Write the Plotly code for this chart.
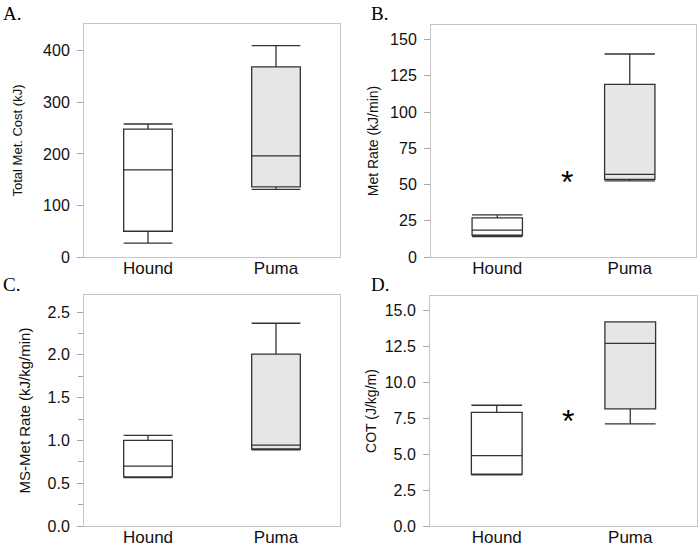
import plotly.graph_objects as go

# ── Data ───────────────────────────────────────────────────────────────────────
categories = ["Hound", "Puma"]

cost_low = [27, 131]
cost_q1 = [50, 136]
cost_med = [169, 196]
cost_q3 = [248, 369]
cost_high = [258, 410]

rate_low = [14, 52.5]
rate_q1 = [15, 53.5]
rate_med = [18.5, 57]
rate_q3 = [27, 119]
rate_high = [29, 140]

ms_low = [0.565, 0.89]
ms_q1 = [0.575, 0.90]
ms_med = [0.70, 0.945]
ms_q3 = [1.0, 2.01]
ms_high = [1.06, 2.37]

cot_low = [3.55, 7.1]
cot_q1 = [3.6, 8.15]
cot_med = [4.9, 12.7]
cot_q3 = [7.9, 14.2]
cot_high = [8.4, 14.2]

# significance markers (y value in each panel)
star_rate_y = 56
star_cot_y = 7.7

# ── Style ──────────────────────────────────────────────────────────────────────
W, H = 699, 548
FILLS = ["#ffffff", "#e6e6e6"]
LINE = "#333333"
FRAME = "#c4c4c4"
FONT = "Liberation Sans, Arial, sans-serif"

panels = [
    # stats, y range, dtick, fmt, title, title size, title standoff,
    # domain px (x0, x1, ytop, ybottom), label, minor
    ((cost_low, cost_q1, cost_med, cost_q3, cost_high), [0, 452], 100, "d",
     "Total Met. Cost (kJ)", 13, 17, (84, 340, 24, 257), "A.", None),
    ((rate_low, rate_q1, rate_med, rate_q3, rate_high), [0, 160], 25, "d",
     "Met Rate (kJ/min)", 14, 8, (431, 696, 25, 257), "B.", None),
    ((ms_low, ms_q1, ms_med, ms_q3, ms_high), [0, 2.7], 0.5, ".1f",
     "MS-Met Rate (kJ/kg/min)", 15, 13, (84, 340, 295, 526), "C.", 0.25),
    ((cot_low, cot_q1, cot_med, cot_q3, cot_high), [0, 16], 2.5, ".1f",
     "COT (J/kg/m)", 14, 4, (430, 697, 296, 526), "D.", None),
]

fig = go.Figure()
layout = {}
annotations = []

for i, (stats, yr, dt, fmt, title, tsize, tstand, dom, label, minor) in enumerate(panels):
    n = "" if i == 0 else str(i + 1)
    lo, q1, med, q3, hi = stats
    for j, cat in enumerate(categories):
        fig.add_trace(go.Box(
            x=[cat], lowerfence=[lo[j]], q1=[q1[j]], median=[med[j]],
            q3=[q3[j]], upperfence=[hi[j]],
            fillcolor=FILLS[j], line=dict(color=LINE, width=1.3),
            width=0.38, whiskerwidth=1, boxpoints=False,
            xaxis="x" + n, yaxis="y" + n, showlegend=False, hoverinfo="y",
        ))
    x0, x1, yt, yb = dom
    xa = dict(
        domain=[x0 / W, x1 / W], anchor="y" + n, type="category",
        categoryorder="array", categoryarray=categories, range=[-0.5, 1.5],
        showline=True, mirror=True, linecolor=FRAME, linewidth=1,
        showgrid=False, zeroline=False, ticks="", automargin=False,
        tickfont=dict(family=FONT, size=17, color="#111111"),
        ticklabelstandoff=-4,
    )
    ya = dict(
        domain=[1 - yb / H, 1 - yt / H], anchor="x" + n, range=yr,
        dtick=dt, tick0=0, tickformat=fmt, automargin=False,
        showline=True, mirror=True, linecolor=FRAME, linewidth=1,
        showgrid=False, zeroline=False,
        ticks="outside", ticklen=6, tickcolor="#a8a8a8", tickwidth=1,
        tickfont=dict(family=FONT, size=16, color="#111111"),
        ticklabelstandoff=4,
        title=dict(text=title, font=dict(family=FONT, size=tsize, color="#111111"),
                   standoff=tstand),
    )
    if minor:
        ya["minor"] = dict(dtick=minor, ticks="outside", ticklen=5,
                           tickcolor="#a8a8a8", tickwidth=1, showgrid=False)
    layout["xaxis" + n] = xa
    layout["yaxis" + n] = ya

    lx = 1 if x0 < 200 else 369
    ly = 1 if yt < 200 else 272
    annotations.append(dict(
        text=label, xref="paper", yref="paper", x=lx / W, y=1 - ly / H,
        xanchor="left", yanchor="top", showarrow=False,
        font=dict(family="Liberation Serif, Times New Roman, serif", size=19, color="#000000"),
    ))

for n, yv in (("2", star_rate_y), ("4", star_cot_y)):
    annotations.append(dict(
        text="*", xref="x" + n, yref="y" + n, x=0.53, y=yv,
        showarrow=False, yshift=-6,
        font=dict(family=FONT, size=32, color="#000000"),
    ))

fig.update_layout(
    width=W, height=H, autosize=False,
    margin=dict(l=0, r=0, t=0, b=0, autoexpand=False),
    paper_bgcolor="white", plot_bgcolor="white",
    font=dict(family=FONT, color="#111111"),
    annotations=annotations,
    **layout,
)

# drop the browser's default 8px body margin so the figure sits at the page origin
fig.write_html("out.html", config={"displayModeBar": False},
               post_script="document.body.style.margin='0';")
